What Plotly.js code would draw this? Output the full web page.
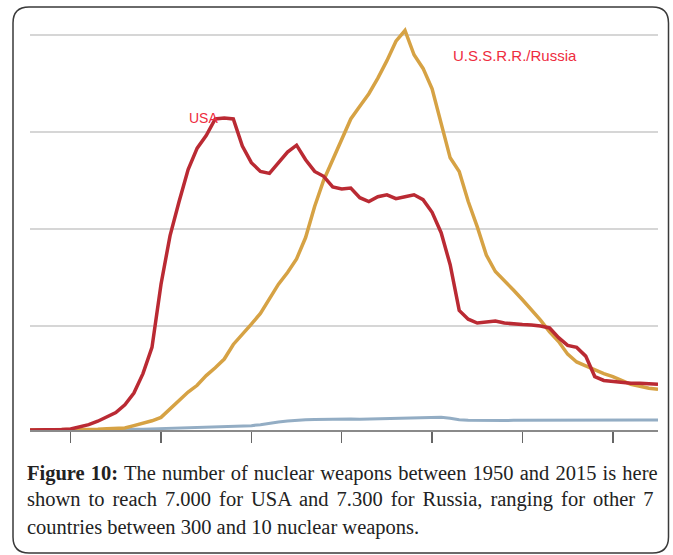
<!DOCTYPE html>
<html>
<head>
<meta charset="utf-8">
<script src="https://cdn.plot.ly/plotly-3.0.1.min.js"></script>
<style>
  html, body { margin: 0; padding: 0; background: #ffffff; }
  #chart { width: 673px; height: 555px; }
  /* emulate the justified caption of the reference */
  #chart .annotation[data-index="2"] .annotation-text { word-spacing: 1px; }
  #chart .annotation[data-index="3"] .annotation-text { word-spacing: 2.9px; }
</style>
</head>
<body>
<div id="chart"></div>
<script>
// ---------------- data ----------------
const years = [1945,1946,1947,1948,1949,1950,1951,1952,1953,1954,
               1955,1956,1957,1958,1959,1960,1961,1962,1963,1964,
               1965,1966,1967,1968,1969,1970,1971,1972,1973,1974,
               1975,1976,1977,1978,1979,1980,1981,1982,1983,1984,
               1985,1986,1987,1988,1989,1990,1991,1992,1993,1994,
               1995,1996,1997,1998,1999,2000,2001,2002,2003,2004,
               2005,2006,2007,2008,2009,2010,2011,2012,2013,2014,2015];

const usaWarheads = [0,0,10,30,50,100,300,550,900,1350,
                     1800,2600,3800,5800,8500,15000,20000,23500,26800,29000,
                     30300,32000,32100,32000,29200,27500,26600,26400,27500,28600,
                     29300,27800,26600,26100,25000,24800,24900,23900,23500,24000,
                     24200,23800,24000,24200,23700,22400,20300,17000,12300,11400,
                     11000,11100,11200,11000,10900,10850,10800,10700,10500,9500,
                     8700,8500,7600,5500,5100,5000,4900,4800,4800,4750,4700];

const russiaWarheads = [0,0,0,0,10,20,30,50,80,120,
                        150,200,450,700,950,1300,2200,3100,3900,4600,
                        5600,6400,7300,8800,9800,10900,12000,13500,15000,16200,
                        17600,19800,23000,25700,27800,30000,32000,33300,34600,36200,
                        38000,40000,41100,38600,37200,35100,31500,28000,26600,23500,
                        20900,18000,16300,15400,14400,13400,12400,11300,10100,9100,
                        7800,7000,6600,6200,5800,5500,5100,4700,4500,4300,4200];

const otherWarheads = [0,0,0,0,0,0,0,10,20,30,
                       40,50,70,90,120,150,180,200,240,280,
                       300,330,360,380,400,450,550,700,820,920,
                       1000,1050,1080,1100,1120,1150,1130,1100,1120,1150,
                       1150,1150,1180,1200,1220,1250,1300,1200,1050,1000,
                       980,970,950,970,1000,1000,970,950,950,970,
                       1000,980,950,960,970,980,1000,1000,1020,1030,1030];

const tickYears  = [1950, 1960, 1970, 1980, 1990, 2000, 2010];
const gridLevels = [10650, 20650, 30650, 40650];

const labelUSA    = 'USA';
const labelRussia = 'U.S.S.R.R./Russia';
const captionLine1 = '<b>Figure 10:</b> The number of nuclear weapons between 1950 and 2015 is here';
const captionLine2 = 'shown to reach 7.000 for USA and 7.300 for Russia, ranging for other 7';
const captionLine3 = 'countries between 300 and 10 nuclear weapons.';

// ---------------- layout geometry ----------------
const W = 673, H = 555;
const M = {l: 30, r: 15, t: 20, b: 125};
const PW = W - M.l - M.r, PH = H - M.t - M.b;
const px2x = px => (px - M.l) / PW;          // pixel -> paper x
const py2y = py => (H - M.b - py) / PH;      // pixel -> paper y

function roundedBox(x0, y0, x1, y1, r) {
  const X = px2x, Y = py2y;
  return 'M' + X(x0 + r) + ',' + Y(y0) +
         ' L' + X(x1 - r) + ',' + Y(y0) +
         ' Q' + X(x1) + ',' + Y(y0) + ' ' + X(x1) + ',' + Y(y0 + r) +
         ' L' + X(x1) + ',' + Y(y1 - r) +
         ' Q' + X(x1) + ',' + Y(y1) + ' ' + X(x1 - r) + ',' + Y(y1) +
         ' L' + X(x0 + r) + ',' + Y(y1) +
         ' Q' + X(x0) + ',' + Y(y1) + ' ' + X(x0) + ',' + Y(y1 - r) +
         ' L' + X(x0) + ',' + Y(y0 + r) +
         ' Q' + X(x0) + ',' + Y(y0) + ' ' + X(x0 + r) + ',' + Y(y0) + ' Z';
}

const traces = [
  {x: years, y: otherWarheads, type: 'scatter', mode: 'lines', name: 'Others',
   line: {color: '#93adc4', width: 3}, hoverinfo: 'skip'},
  {x: years, y: russiaWarheads, type: 'scatter', mode: 'lines', name: labelRussia,
   line: {color: '#d6a244', width: 3.5}, hoverinfo: 'skip'},
  {x: years, y: usaWarheads, type: 'scatter', mode: 'lines', name: labelUSA,
   line: {color: '#ba2a33', width: 3.5}, hoverinfo: 'skip'}
];

const captionFont = {family: '"Liberation Serif", "Times New Roman", serif', size: 20.5, color: '#222222'};

const layout = {
  width: W, height: H,
  margin: M,
  paper_bgcolor: '#ffffff',
  plot_bgcolor: '#ffffff',
  showlegend: false,
  xaxis: {
    range: [1945.5, 2015],
    tickvals: tickYears,
    showticklabels: false,
    ticks: 'outside', ticklen: 11, tickwidth: 1.5, tickcolor: '#666666',
    showline: true, linecolor: '#8a8a8a', linewidth: 2,
    showgrid: false, zeroline: false, fixedrange: true
  },
  yaxis: {
    range: [0, 42180],
    tickvals: gridLevels,
    showticklabels: false,
    ticks: '',
    showgrid: true, gridcolor: '#d6d6d6', gridwidth: 2,
    showline: false, zeroline: false, fixedrange: true
  },
  shapes: [
    {type: 'path', xref: 'paper', yref: 'paper', layer: 'above',
     path: roundedBox(13, 7, 668.5, 553, 16),
     line: {color: '#3a3a3a', width: 1.5}, fillcolor: 'rgba(0,0,0,0)'}
  ],
  annotations: [
    {x: 1964.65, y: 32100, xref: 'x', yref: 'y', text: labelUSA, showarrow: false,
     xanchor: 'center', yanchor: 'middle',
     font: {family: '"Liberation Sans", Arial, sans-serif', size: 14, color: '#ee2c40'}},
    {x: 1999.2, y: 38500, xref: 'x', yref: 'y', text: labelRussia, showarrow: false,
     xanchor: 'center', yanchor: 'middle',
     font: {family: '"Liberation Sans", Arial, sans-serif', size: 15, color: '#ee2c40'}},
    {x: px2x(25), y: py2y(473), xref: 'paper', yref: 'paper', text: captionLine1,
     showarrow: false, xanchor: 'left', yanchor: 'middle', align: 'left', font: captionFont},
    {x: px2x(25), y: py2y(500), xref: 'paper', yref: 'paper', text: captionLine2,
     showarrow: false, xanchor: 'left', yanchor: 'middle', align: 'left', font: captionFont},
    {x: px2x(25), y: py2y(527), xref: 'paper', yref: 'paper', text: captionLine3,
     showarrow: false, xanchor: 'left', yanchor: 'middle', align: 'left', font: captionFont}
  ]
};

Plotly.newPlot('chart', traces, layout, {displayModeBar: false, staticPlot: true});
</script>
</body>
</html>
